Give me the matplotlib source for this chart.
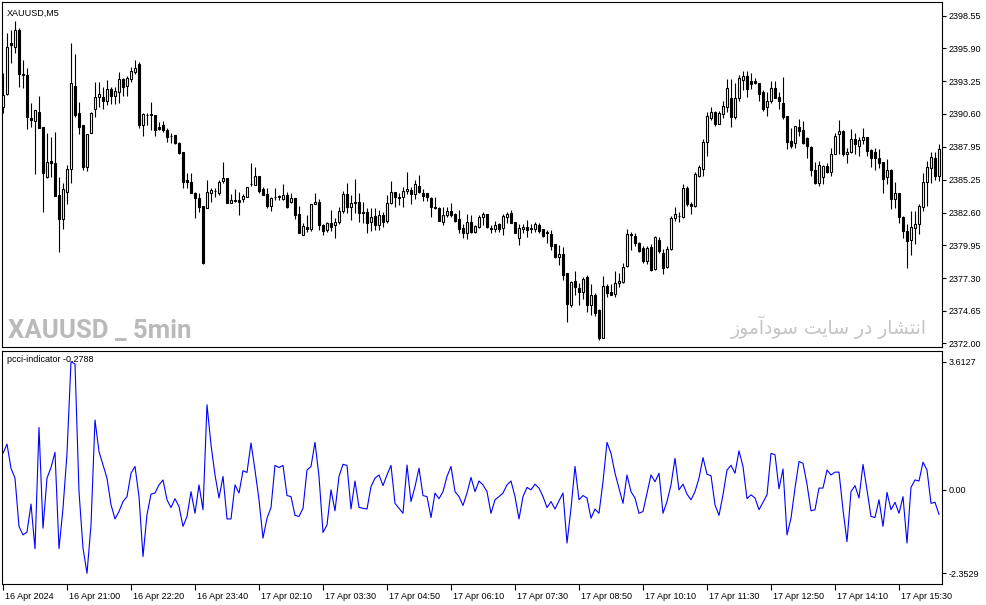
import numpy as np
import matplotlib.pyplot as plt
import matplotlib.transforms as mtransforms

plt.rcParams['font.family'] = ['Liberation Sans', 'DejaVu Sans']

# XAUUSD M5 candles (bar 0 = 16 Apr 19:40)
opens = [
    2391.18, 2392.21, 2396.36, 2395.99, 2397.39, 2393.83, 2393.74, 2390.29, 2390.02, 2390.72,
    2389.51, 2385.51, 2386.78, 2386.59, 2384.02, 2382.06, 2384.29, 2386.11, 2392.85, 2390.69,
    2389.69, 2386.32, 2389.02, 2390.97, 2391.94, 2391.99, 2391.66, 2392.59, 2392.07, 2392.34,
    2393.42, 2392.88, 2393.42, 2394.01, 2394.64, 2389.69, 2390.53, 2390.56, 2390.50, 2389.56,
    2389.69, 2389.29, 2388.80, 2388.88, 2388.26, 2387.53, 2385.24, 2385.10, 2384.21, 2383.76,
    2383.13, 2382.95, 2384.21, 2384.35, 2384.21, 2385.16, 2385.38, 2383.35, 2383.62, 2383.62,
    2383.68, 2383.84, 2384.92, 2384.83, 2385.56, 2384.49, 2384.11, 2383.16, 2383.89, 2383.89,
    2383.68, 2384.02, 2383.48, 2383.76, 2382.49, 2380.78, 2381.41, 2381.25, 2383.30, 2383.48,
    2381.59, 2381.19, 2381.73, 2381.59, 2381.86, 2382.75, 2384.11, 2383.08, 2383.40, 2383.48,
    2382.67, 2382.65, 2381.86, 2382.32, 2381.59, 2382.40, 2381.94, 2383.40, 2384.29, 2383.84,
    2383.84, 2384.37, 2384.43, 2384.08, 2384.75, 2384.21, 2384.16, 2383.76, 2383.03, 2382.95,
    2381.86, 2382.40, 2382.75, 2382.46, 2382.08, 2381.33, 2380.97, 2381.86, 2381.05, 2381.41,
    2382.27, 2382.49, 2381.33, 2381.25, 2381.68, 2381.33, 2382.27, 2382.54, 2381.86, 2380.52,
    2381.25, 2381.41, 2381.33, 2381.25, 2381.59, 2381.25, 2381.05, 2380.87, 2380.06, 2379.03,
    2379.25, 2377.68, 2375.11, 2377.08, 2376.47, 2376.19, 2377.41, 2375.11, 2375.92, 2374.71,
    2372.42, 2376.65, 2376.14, 2375.98, 2376.87, 2377.00, 2378.26, 2380.83, 2380.74, 2380.14,
    2379.77, 2378.68, 2379.84, 2378.01, 2380.38, 2379.33, 2378.19, 2379.63, 2382.15, 2382.36,
    2382.27, 2384.58, 2383.27, 2383.17, 2385.60, 2386.16, 2388.34, 2390.25, 2390.71, 2389.80,
    2390.55, 2391.16, 2391.87, 2390.34, 2391.87, 2393.38, 2393.69, 2393.29, 2393.29, 2393.08,
    2392.38, 2391.16, 2391.62, 2392.68, 2391.99, 2391.47, 2390.46, 2388.43, 2388.22, 2389.56,
    2389.25, 2388.64, 2387.91, 2386.09, 2385.00, 2385.48, 2386.40, 2385.91, 2387.37, 2388.95,
    2389.19, 2387.31, 2387.52, 2388.59, 2387.98, 2388.52, 2388.73, 2387.67, 2387.52, 2387.06,
    2386.70, 2385.48, 2386.09, 2383.73, 2384.18, 2382.27, 2381.14, 2380.38, 2381.35, 2381.66,
    2383.05, 2385.09, 2386.21, 2387.06, 2385.55,
]
highs = [
    2393.88, 2397.12, 2397.39, 2398.12, 2397.55, 2394.96, 2394.29, 2391.50, 2390.91, 2392.07,
    2389.51, 2389.02, 2388.75, 2389.15, 2385.51, 2384.97, 2386.45, 2396.31, 2395.45, 2391.58,
    2389.69, 2388.97, 2390.77, 2393.20, 2393.20, 2392.80, 2393.34, 2392.75, 2392.75, 2394.01,
    2393.48, 2393.66, 2394.42, 2394.96, 2394.82, 2390.64, 2390.64, 2391.53, 2390.50, 2389.96,
    2390.02, 2389.43, 2389.02, 2388.88, 2388.34, 2387.53, 2385.78, 2385.78, 2384.27, 2384.21,
    2383.13, 2385.24, 2384.57, 2384.57, 2385.24, 2386.67, 2385.38, 2384.11, 2384.49, 2384.29,
    2384.11, 2384.70, 2386.59, 2386.32, 2385.56, 2384.65, 2384.57, 2383.89, 2384.57, 2384.02,
    2384.92, 2384.29, 2384.21, 2383.76, 2383.13, 2381.73, 2382.40, 2383.30, 2384.21, 2383.68,
    2381.68, 2381.86, 2382.81, 2382.14, 2383.03, 2384.37, 2384.97, 2384.02, 2385.30, 2384.16,
    2383.48, 2382.95, 2382.95, 2382.95, 2382.81, 2382.67, 2384.02, 2385.16, 2384.29, 2384.21,
    2384.70, 2385.91, 2384.65, 2385.24, 2385.64, 2384.49, 2384.21, 2383.89, 2383.89, 2383.03,
    2383.03, 2383.03, 2383.40, 2382.54, 2382.81, 2381.68, 2382.49, 2382.40, 2381.59, 2382.40,
    2382.67, 2382.49, 2381.59, 2381.94, 2381.73, 2382.49, 2382.67, 2382.81, 2381.86, 2381.68,
    2381.68, 2382.00, 2381.68, 2381.86, 2381.78, 2381.25, 2381.19, 2381.19, 2380.06, 2379.97,
    2379.79, 2377.68, 2377.08, 2377.89, 2376.87, 2377.41, 2377.54, 2376.82, 2376.06, 2374.77,
    2377.46, 2376.82, 2376.82, 2377.89, 2377.68, 2378.49, 2381.25, 2381.05, 2380.93, 2380.23,
    2379.93, 2379.93, 2380.02, 2380.74, 2380.62, 2379.63, 2379.93, 2382.36, 2383.05, 2382.66,
    2384.94, 2384.79, 2383.42, 2385.85, 2386.45, 2388.59, 2390.71, 2391.16, 2390.86, 2390.86,
    2391.68, 2393.45, 2393.45, 2393.08, 2393.74, 2394.05, 2394.05, 2393.90, 2393.50, 2393.08,
    2392.53, 2392.38, 2393.29, 2393.29, 2392.38, 2393.59, 2390.46, 2389.49, 2389.65, 2390.16,
    2390.04, 2388.73, 2387.98, 2386.70, 2386.76, 2386.45, 2386.61, 2387.82, 2389.04, 2390.10,
    2389.25, 2387.82, 2389.34, 2389.04, 2388.73, 2389.49, 2388.73, 2387.73, 2387.82, 2387.73,
    2386.70, 2386.91, 2386.16, 2385.09, 2384.18, 2382.36, 2381.66, 2382.75, 2382.75, 2383.27,
    2385.79, 2386.76, 2387.52, 2387.52, 2388.12,
]
lows = [
    2390.69, 2392.12, 2394.69, 2395.50, 2392.75, 2392.67, 2389.35, 2389.51, 2385.70, 2389.43,
    2382.62, 2385.38, 2385.51, 2383.97, 2379.43, 2381.25, 2383.30, 2385.02, 2390.32, 2388.97,
    2386.05, 2385.99, 2389.02, 2390.32, 2391.18, 2390.99, 2391.31, 2391.40, 2391.40, 2391.45,
    2392.07, 2392.07, 2393.20, 2393.83, 2389.43, 2388.83, 2389.69, 2389.29, 2388.80, 2389.29,
    2389.15, 2388.34, 2388.21, 2388.16, 2387.35, 2384.57, 2384.57, 2384.16, 2382.14, 2382.67,
    2378.44, 2382.95, 2383.48, 2383.89, 2384.02, 2385.02, 2383.35, 2383.35, 2383.48, 2382.40,
    2383.48, 2383.84, 2384.75, 2384.83, 2384.21, 2384.02, 2382.95, 2382.75, 2383.62, 2383.62,
    2383.62, 2382.95, 2383.35, 2382.08, 2380.97, 2380.78, 2381.05, 2381.13, 2383.30, 2381.19,
    2380.78, 2381.05, 2381.13, 2380.52, 2381.68, 2382.54, 2382.54, 2382.00, 2382.54, 2381.86,
    2381.78, 2380.92, 2381.13, 2381.19, 2381.19, 2381.41, 2381.73, 2383.30, 2383.08, 2383.21,
    2383.03, 2384.11, 2383.30, 2383.70, 2384.21, 2383.56, 2383.56, 2382.27, 2382.87, 2381.94,
    2381.59, 2382.27, 2382.27, 2381.86, 2380.92, 2380.52, 2380.44, 2380.92, 2380.92, 2381.33,
    2381.59, 2381.33, 2380.92, 2381.05, 2381.05, 2380.78, 2381.78, 2381.73, 2380.92, 2379.97,
    2380.97, 2380.65, 2380.97, 2381.05, 2380.97, 2380.60, 2380.16, 2379.57, 2378.90, 2378.35,
    2377.14, 2373.76, 2374.98, 2375.92, 2375.11, 2375.58, 2374.57, 2374.30, 2374.22, 2372.28,
    2372.42, 2375.79, 2375.92, 2375.74, 2376.60, 2376.92, 2378.17, 2379.53, 2379.93, 2379.41,
    2378.52, 2378.41, 2377.87, 2377.95, 2379.33, 2377.65, 2378.11, 2379.53, 2381.90, 2381.84,
    2382.20, 2383.17, 2382.51, 2383.05, 2385.48, 2385.55, 2387.22, 2390.10, 2389.65, 2389.74,
    2390.25, 2390.77, 2389.56, 2390.16, 2391.68, 2392.53, 2391.99, 2392.59, 2392.98, 2391.68,
    2390.86, 2390.41, 2391.47, 2391.87, 2391.02, 2390.16, 2387.73, 2387.82, 2387.82, 2388.83,
    2388.12, 2387.06, 2385.60, 2384.94, 2384.79, 2384.94, 2385.79, 2385.60, 2387.31, 2387.31,
    2387.22, 2386.61, 2387.43, 2387.37, 2387.22, 2388.12, 2387.22, 2386.30, 2386.09, 2386.21,
    2384.18, 2384.94, 2382.87, 2382.96, 2381.75, 2380.53, 2378.10, 2379.16, 2380.08, 2380.83,
    2382.75, 2383.17, 2385.00, 2385.24, 2385.18,
]
closes = [
    2392.12, 2396.04, 2396.15, 2397.39, 2393.83, 2393.72, 2390.37, 2390.10, 2390.91, 2389.43,
    2385.78, 2386.72, 2386.59, 2383.97, 2382.06, 2384.49, 2386.11, 2393.07, 2390.50, 2389.51,
    2386.32, 2388.97, 2390.64, 2391.94, 2392.18, 2391.66, 2392.59, 2392.04, 2392.47, 2393.40,
    2392.75, 2393.48, 2394.07, 2394.29, 2389.69, 2390.56, 2390.50, 2390.50, 2389.29, 2389.35,
    2389.29, 2388.75, 2388.78, 2388.21, 2387.45, 2385.10, 2385.10, 2384.21, 2383.76, 2383.03,
    2378.49, 2384.29, 2384.43, 2384.33, 2385.10, 2385.38, 2383.35, 2383.62, 2383.56, 2383.48,
    2383.94, 2384.65, 2384.90, 2385.56, 2384.37, 2384.02, 2383.16, 2383.76, 2383.87, 2383.91,
    2384.02, 2383.03, 2383.76, 2382.40, 2380.97, 2381.51, 2381.25, 2383.30, 2383.48, 2381.59,
    2381.13, 2381.78, 2381.46, 2381.86, 2382.75, 2384.11, 2383.08, 2383.35, 2383.42, 2382.54,
    2382.54, 2381.73, 2382.22, 2381.59, 2382.40, 2381.86, 2383.35, 2384.29, 2383.84, 2383.82,
    2384.37, 2384.49, 2384.08, 2384.92, 2384.29, 2383.94, 2383.84, 2383.03, 2383.01, 2381.94,
    2382.40, 2382.75, 2382.40, 2381.94, 2381.25, 2380.92, 2381.86, 2381.05, 2381.51, 2382.27,
    2382.49, 2381.41, 2381.31, 2381.59, 2381.25, 2382.32, 2382.49, 2381.78, 2380.92, 2381.33,
    2381.46, 2381.19, 2381.31, 2381.68, 2381.13, 2380.70, 2380.92, 2379.89, 2378.98, 2379.25,
    2377.54, 2375.20, 2377.00, 2376.60, 2376.19, 2377.20, 2375.11, 2375.92, 2374.44, 2372.42,
    2376.65, 2376.06, 2375.92, 2376.87, 2377.06, 2378.22, 2380.83, 2380.81, 2380.14, 2379.47,
    2378.71, 2379.72, 2377.95, 2380.62, 2379.47, 2378.11, 2379.63, 2382.15, 2382.45, 2382.34,
    2384.63, 2383.27, 2383.12, 2385.69, 2386.30, 2388.34, 2390.46, 2390.77, 2389.80, 2390.65,
    2391.23, 2392.68, 2390.34, 2391.87, 2393.50, 2393.69, 2392.59, 2392.98, 2393.08, 2392.23,
    2391.02, 2391.68, 2392.68, 2391.92, 2391.62, 2390.34, 2388.34, 2387.98, 2389.65, 2389.19,
    2388.22, 2387.98, 2386.09, 2385.00, 2386.45, 2386.40, 2385.91, 2387.37, 2388.83, 2389.19,
    2387.37, 2387.52, 2388.59, 2388.12, 2388.52, 2388.73, 2387.61, 2387.06, 2387.01, 2386.61,
    2385.30, 2386.09, 2383.73, 2384.18, 2382.27, 2381.14, 2380.32, 2381.45, 2381.66, 2383.12,
    2385.09, 2386.30, 2387.13, 2385.55, 2387.73,
]

# pcci-indicator values, one per bar
pcci = [
    1.03, 1.29, 0.61, 0.33, -1.03, -1.27, -1.19, -0.40, -1.66, 1.76,
    -1.08, 0.33, 0.63, 1.06, -1.66, -0.52, 1.03, 3.6127, 3.55, -0.05,
    -1.64, -2.3529, -0.99, 1.97, 1.08, 0.70, 0.33, -0.42, -0.82, -0.61,
    -0.33, -0.19, 0.47, 0.66, -0.19, -1.88, -0.70, -0.12, -0.09, 0.14,
    0.28, -0.28, -0.50, -0.25, -0.47, -1.03, -0.75, -0.05, -0.66, 0.14,
    -0.56, 2.40, 1.27, 0.42, -0.23, 0.38, -0.82, -0.82, 0.14, -0.09,
    0.54, 0.49, 1.32, 0.56, -0.28, -1.36, -0.80, -0.50, 0.69, 0.63,
    0.69, -0.16, -0.19, -0.72, -0.75, -0.52, 0.56, 0.66, 1.34, 0.38,
    -1.20, -0.99, 0.00, -0.59, 0.38, 0.72, 0.69, -0.54, 0.25, -0.49,
    -0.52, -0.54, 0.09, 0.33, 0.42, 0.12, 0.42, 0.69, -0.38, -0.52,
    -0.66, 0.70, -0.33, 0.09, 0.61, -0.16, -0.19, -0.78, -0.09, -0.25,
    -0.05, 0.38, 0.66, -0.05, -0.19, -0.44, -0.09, 0.35, -0.05, 0.25,
    0.14, -0.05, -0.66, -0.28, -0.19, -0.09, 0.14, 0.25, -0.19, -0.82,
    -0.19, 0.07, 0.00, 0.16, 0.05, -0.19, -0.50, -0.33, -0.54, -0.31,
    -0.09, -1.50, -0.52, 0.66, -0.28, -0.16, -0.23, -0.80, -0.54, -0.66,
    0.23, 1.34, 1.03, 0.47, 0.05, -0.38, 0.42, -0.05, -0.23, -0.66,
    -0.61, -0.09, 0.42, 0.23, 0.47, -0.66, -0.33, 0.14, 0.89, 0.00,
    0.16, -0.12, -0.28, -0.05, 0.33, 0.91, 0.44, 0.40, -0.42, -0.72,
    -0.14, 0.56, 0.69, 0.47, 1.10, 0.66, -0.25, -0.14, -0.23, -0.56,
    -0.35, -0.14, 1.03, 0.99, 0.03, 0.59, -1.27, -0.80, 0.05, 0.80,
    0.75, 0.16, -0.59, -0.56, 0.05, 0.05, 0.56, 0.42, 0.50, 0.50,
    -0.56, -1.46, -0.05, 0.12, -0.23, 0.72, 0.00, -0.75, -0.78, -0.28,
    -1.03, -0.07, -0.56, -0.35, -0.66, -0.19, -1.50, 0.07, 0.28, 0.25,
    0.78, 0.56, -0.38, -0.35, -0.69,
]

price_ticks = [2372.00, 2374.65, 2377.30, 2379.95, 2382.60, 2385.25,
               2387.95, 2390.60, 2393.25, 2395.90, 2398.55]
price_tick_labels = ['2372.00', '2374.65', '2377.30', '2379.95', '2382.60', '2385.25',
                     '2387.95', '2390.60', '2393.25', '2395.90', '2398.55']
ind_ticks = [3.6127, 0.0, -2.3529]
ind_tick_labels = ['3.6127', '0.00', '-2.3529']

time_idx = [0, 16, 32, 48, 64, 80, 96, 112, 128, 144, 160, 176, 192, 208, 224]
time_labels = ['16 Apr 2024', '16 Apr 21:00', '16 Apr 22:20', '16 Apr 23:40',
               '17 Apr 02:10', '17 Apr 03:30', '17 Apr 04:50', '17 Apr 06:10',
               '17 Apr 07:30', '17 Apr 08:50', '17 Apr 10:10', '17 Apr 11:30',
               '17 Apr 12:50', '17 Apr 14:10', '17 Apr 15:30']

symbol_title = 'XAUUSD,M5'
indicator_title = 'pcci-indicator -0.2788'
watermark_en = 'XAUUSD _ 5min'
watermark_fa = 'انتشار در سایت سودآموز'
# matplotlib has no Arabic shaping, so the same words in joined
# presentation forms, written in visual (left-to-right) order
watermark_fa_shaped = ('\ufeaf\ufeee\ufee3\ufe81\ufea9\ufeee\ufeb3 '
                       '\ufe96\ufef3\ufe8e\ufeb3 \ufead\ufea9 '
                       '\ufead\ufe8e\ufeb8\ufe98\ufee7\ufe8d')

o = np.array(opens)
h = np.array(highs)
l = np.array(lows)
c = np.array(closes)
x = np.arange(len(c))

W, H = 987, 605
fig = plt.figure(figsize=(W / 100, H / 100), dpi=100)
fig.patch.set_facecolor('white')
ax = fig.add_axes([2 / W, 1 - 347 / H, 940 / W, 345 / H])
ax2 = fig.add_axes([2 / W, 1 - 584 / H, 940 / W, 233 / H])

# candles
ax.vlines(x, l, h, color='black', linewidth=0.8, zorder=2)
up = c >= o
body = np.maximum(np.abs(c - o), 0.015)
ax.bar(x[up], body[up], bottom=o[up], width=0.5, facecolor='white',
       edgecolor='black', linewidth=0.8, zorder=3)
ax.bar(x[~up], body[~up], bottom=c[~up], width=0.5, facecolor='black',
       edgecolor='black', linewidth=0.8, zorder=3)

ax.set_xlim(-0.25, len(c) - 0.25)
ax.set_ylim(2371.71, 2399.66)
ax.set_xticks([])
ax.yaxis.tick_right()
ax.set_yticks(price_ticks)
ax.set_yticklabels(price_tick_labels)
ax.tick_params(axis='y', direction='out', length=3, width=0.8, pad=2,
               labelsize=6.5, colors='black')

# indicator
ax2.plot(x, pcci, color='#0000ff', linewidth=0.8)
ax2.set_xlim(-0.25, len(c) - 0.25)
ax2.set_ylim(-2.654, 3.915)
ax2.yaxis.tick_right()
ax2.set_yticks(ind_ticks)
ax2.set_yticklabels(ind_tick_labels)
ax2.tick_params(axis='y', direction='out', length=3, width=0.8, pad=2,
                labelsize=6.5)
ax2.set_xticks(time_idx)
ax2.set_xticklabels(time_labels, ha='left')
ax2.tick_params(axis='x', direction='out', length=4, width=0.8, pad=1.5,
                labelsize=6.5)
shift = mtransforms.ScaledTranslation(2 / 100, 0, fig.dpi_scale_trans)
for lbl in ax2.get_xticklabels():
    lbl.set_transform(lbl.get_transform() + shift)

for a in (ax, ax2):
    for s in a.spines.values():
        s.set_linewidth(0.8)
        s.set_color('black')

# texts
fig.text(7 / W, 1 - 13 / H, symbol_title, fontsize=6.5, va='center')
fig.text(7 / W, 1 - 360 / H, indicator_title, fontsize=6.5, va='center')
fig.text(8 / W, 1 - 331 / H, watermark_en, fontsize=18.5, fontweight='bold',
         color='#bababa', va='center', family=['Roboto', 'DejaVu Sans'])
fig.text(927 / W, 1 - 327 / H, watermark_fa_shaped, fontsize=13.5,
         color='#c4c4c4', va='center', ha='right', family='DejaVu Sans')

fig.savefig('out.png', dpi=100, facecolor='white')
